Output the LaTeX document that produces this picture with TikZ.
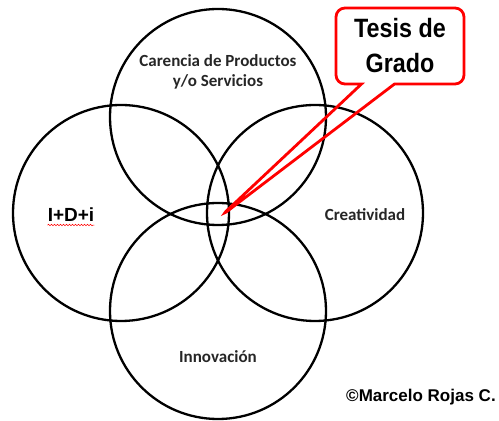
\documentclass[tikz,border=0pt]{standalone}
\usepackage{fontspec}
\setmainfont{Liberation Sans}
\newfontfamily\calfont{Carlito}
\usepackage{graphicx}
\usetikzlibrary{shapes.callouts,decorations.pathmorphing}
\definecolor{calloutred}{RGB}{255,0,0}
\definecolor{labelgray}{RGB}{38,38,38}

\begin{document}
\begin{tikzpicture}[
  x=1pt, y=1pt,
  ring/.style={circle, draw=black, line width=2.3pt,
    minimum size=216pt, inner sep=0pt},
  label/.style={align=center, text=labelgray,
    font=\calfont\bfseries\fontsize{17}{20}\selectfont},
  callbox/.style={rectangle callout, draw=calloutred, line width=2.8pt,
    rounded corners=9pt, minimum width=128pt, minimum height=76pt,
    callout pointer width=33pt, align=center,
    font=\bfseries\fontsize{26.5}{35}\selectfont}
]
\useasboundingbox (0,0) rectangle (499,421);

% Circles
\node[ring] (top)    at (218,304) {};
\node[ring] (left)   at (121,208) {};
\node[ring] (right)  at (315,208) {};
\node[ring] (bottom) at (218,110) {};

% Labels
\node[label] (carencia) at (218,349) {Carencia de Productos\\y/o Servicios};
\node[label] (creat) at (365,206) {Creatividad};
\node[label] (innov) at (218,64) {Innovación};
\node[font=\bfseries\fontsize{19}{20}\selectfont, inner sep=0pt]
  (idi) at (71,206) {I+D+i};
\draw[calloutred, line width=0.5pt, decorate,
  decoration={snake, amplitude=0.8pt, segment length=3pt}]
  ([yshift=-3pt]idi.south west) -- ([yshift=-3pt]idi.south east);

% Callout
\coordinate (tip) at (221,205);
\node[callbox, callout absolute pointer={(tip)}] (tesis) at (400,375)
  {\scalebox{0.88}[1]{Tesis de}\\\scalebox{0.88}[1]{Grado}};

% Author
\node[font=\bfseries\fontsize{17}{18}\selectfont] (author) at (421,24)
  {©Marcelo Rojas C.};
\end{tikzpicture}
\end{document}
